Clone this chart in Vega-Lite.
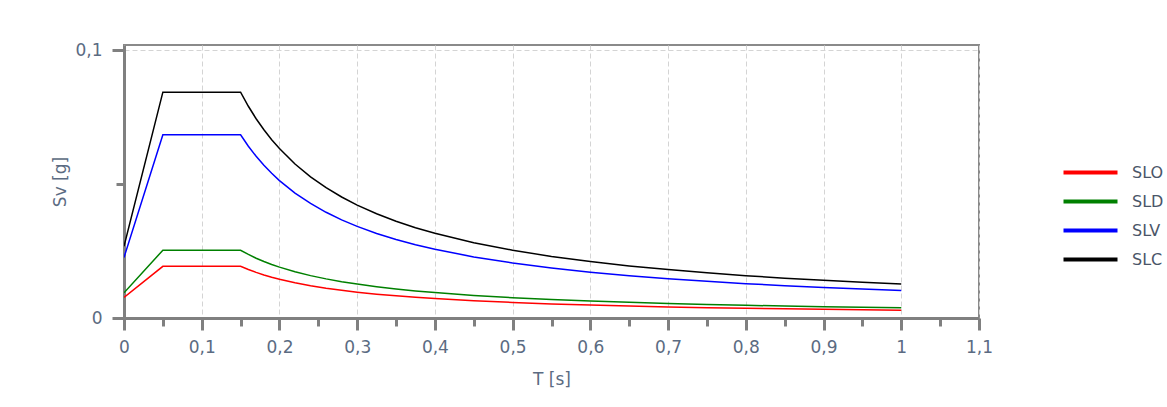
{
  "$schema": "https://vega.github.io/schema/vega-lite/v6.json",
  "width": 855,
  "height": 273,
  "autosize": {"type": "none"},
  "padding": {"left": 124, "top": 45, "right": 188, "bottom": 89},
  "background": "white",
  "config": {
    "view": {"stroke": "#8a8a8a", "strokeWidth": 2},
    "font": "DejaVu Sans"
  },
  "data": {
    "values": [
      {"T": 0, "SLO": 0.0077, "SLD": 0.0094, "SLV": 0.0226, "SLC": 0.0268},
      {"T": 0.05, "SLO": 0.0193, "SLD": 0.0253, "SLV": 0.0684, "SLC": 0.0843},
      {"T": 0.1, "SLO": 0.0193, "SLD": 0.0253, "SLV": 0.0684, "SLC": 0.0843},
      {"T": 0.15, "SLO": 0.0193, "SLD": 0.0253, "SLV": 0.0684, "SLC": 0.0843},
      {"T": 0.16, "SLO": 0.01809, "SLD": 0.02372, "SLV": 0.06413, "SLC": 0.07903},
      {"T": 0.17, "SLO": 0.01703, "SLD": 0.02232, "SLV": 0.06035, "SLC": 0.07438},
      {"T": 0.18, "SLO": 0.01608, "SLD": 0.02108, "SLV": 0.057, "SLC": 0.07025},
      {"T": 0.19, "SLO": 0.01524, "SLD": 0.01997, "SLV": 0.054, "SLC": 0.06655},
      {"T": 0.2, "SLO": 0.01448, "SLD": 0.01898, "SLV": 0.0513, "SLC": 0.06323},
      {"T": 0.22, "SLO": 0.01316, "SLD": 0.01725, "SLV": 0.04664, "SLC": 0.05748},
      {"T": 0.24, "SLO": 0.01206, "SLD": 0.01581, "SLV": 0.04275, "SLC": 0.05269},
      {"T": 0.26, "SLO": 0.01113, "SLD": 0.0146, "SLV": 0.03946, "SLC": 0.04863},
      {"T": 0.28, "SLO": 0.01034, "SLD": 0.01355, "SLV": 0.03664, "SLC": 0.04516},
      {"T": 0.3, "SLO": 0.00965, "SLD": 0.01265, "SLV": 0.0342, "SLC": 0.04215},
      {"T": 0.325, "SLO": 0.00891, "SLD": 0.01168, "SLV": 0.03157, "SLC": 0.03891},
      {"T": 0.35, "SLO": 0.00827, "SLD": 0.01084, "SLV": 0.02931, "SLC": 0.03613},
      {"T": 0.375, "SLO": 0.00772, "SLD": 0.01012, "SLV": 0.02736, "SLC": 0.03372},
      {"T": 0.4, "SLO": 0.00724, "SLD": 0.00949, "SLV": 0.02565, "SLC": 0.03161},
      {"T": 0.45, "SLO": 0.00643, "SLD": 0.00843, "SLV": 0.0228, "SLC": 0.0281},
      {"T": 0.5, "SLO": 0.00579, "SLD": 0.00759, "SLV": 0.02052, "SLC": 0.02529},
      {"T": 0.55, "SLO": 0.00526, "SLD": 0.0069, "SLV": 0.01865, "SLC": 0.02299},
      {"T": 0.6, "SLO": 0.00483, "SLD": 0.00633, "SLV": 0.0171, "SLC": 0.02108},
      {"T": 0.65, "SLO": 0.00445, "SLD": 0.00584, "SLV": 0.01578, "SLC": 0.01945},
      {"T": 0.7, "SLO": 0.00414, "SLD": 0.00542, "SLV": 0.01466, "SLC": 0.01806},
      {"T": 0.75, "SLO": 0.00386, "SLD": 0.00506, "SLV": 0.01368, "SLC": 0.01686},
      {"T": 0.8, "SLO": 0.00362, "SLD": 0.00474, "SLV": 0.01283, "SLC": 0.01581},
      {"T": 0.85, "SLO": 0.00341, "SLD": 0.00446, "SLV": 0.01207, "SLC": 0.01488},
      {"T": 0.9, "SLO": 0.00322, "SLD": 0.00422, "SLV": 0.0114, "SLC": 0.01405},
      {"T": 0.95, "SLO": 0.00305, "SLD": 0.00399, "SLV": 0.0108, "SLC": 0.01331},
      {"T": 1.0, "SLO": 0.0029, "SLD": 0.0038, "SLV": 0.01026, "SLC": 0.01265}
    ]
  },
  "transform": [
    {"fold": ["SLO", "SLD", "SLV", "SLC"], "as": ["series", "Sv"]}
  ],
  "mark": {"type": "line", "strokeWidth": 1.5, "clip": true},
  "encoding": {
    "x": {
      "field": "T",
      "type": "quantitative",
      "scale": {"domain": [0, 1.1], "nice": false, "zero": false},
      "axis": {
        "title": "T [s]",
        "values": [0, 0.05, 0.1, 0.15, 0.2, 0.25, 0.3, 0.35, 0.4, 0.45, 0.5, 0.55, 0.6, 0.65, 0.7, 0.75, 0.8, 0.85, 0.9, 0.95, 1, 1.05, 1.1],
        "labelExpr": "abs(datum.value*10 - round(datum.value*10)) < 0.001 ? replace(format(datum.value, '.1~f'), '.', ',') : ''",
        "tickSize": {"condition": {"test": "abs(datum.value*10 - round(datum.value*10)) < 0.001", "value": 12}, "value": 8},
        "gridOpacity": {"condition": {"test": "abs(datum.value*10 - round(datum.value*10)) < 0.001", "value": 1}, "value": 0},
        "grid": true,
        "gridColor": "#d4d4d4",
        "gridDash": [5, 3],
        "gridWidth": 1,
        "domainColor": "#808080",
        "domainWidth": 3,
        "tickColor": "#808080",
        "tickWidth": 3,
        "labelColor": "#5b6b82",
        "labelFontSize": 17,
        "labelPadding": 9,
        "labelFlush": false,
        "titleColor": "#5b6b82",
        "titleFontSize": 17,
        "titleFontWeight": "normal",
        "titlePadding": 16
      }
    },
    "y": {
      "field": "Sv",
      "type": "quantitative",
      "scale": {"domain": [0, 0.1019], "nice": false, "zero": true},
      "axis": {
        "title": "Sv [g]",
        "values": [0, 0.05, 0.1],
        "labelExpr": "abs(datum.value - 0.05) < 0.001 ? '' : replace(format(datum.value, '.1~f'), '.', ',')",
        "tickSize": {"condition": {"test": "abs(datum.value - 0.05) < 0.001", "value": 8}, "value": 12},
        "gridOpacity": {"condition": {"test": "abs(datum.value - 0.1) < 0.001", "value": 1}, "value": 0},
        "grid": true,
        "gridColor": "#d4d4d4",
        "gridDash": [5, 3],
        "gridWidth": 1,
        "domainColor": "#808080",
        "domainWidth": 3,
        "tickColor": "#808080",
        "tickWidth": 3,
        "labelColor": "#5b6b82",
        "labelFontSize": 17,
        "labelPadding": 10,
        "labelFlush": false,
        "titleColor": "#5b6b82",
        "titleFontSize": 17,
        "titleFontWeight": "normal",
        "titlePadding": 5
      }
    },
    "color": {
      "field": "series",
      "type": "nominal",
      "scale": {"domain": ["SLO", "SLD", "SLV", "SLC"], "range": ["#ff0000", "#008000", "#0000ff", "#000000"]},
      "legend": {
        "title": null,
        "orient": "none",
        "legendX": 951,
        "legendY": 112,
        "symbolType": "M-2,0H2",
        "symbolSize": 729,
        "symbolStrokeWidth": 4,
        "labelFontSize": 16,
        "labelColor": "#4a5568",
        "rowPadding": 5,
        "labelOffset": 26
      }
    },
    "order": {"field": "T", "type": "quantitative"}
  }
}
